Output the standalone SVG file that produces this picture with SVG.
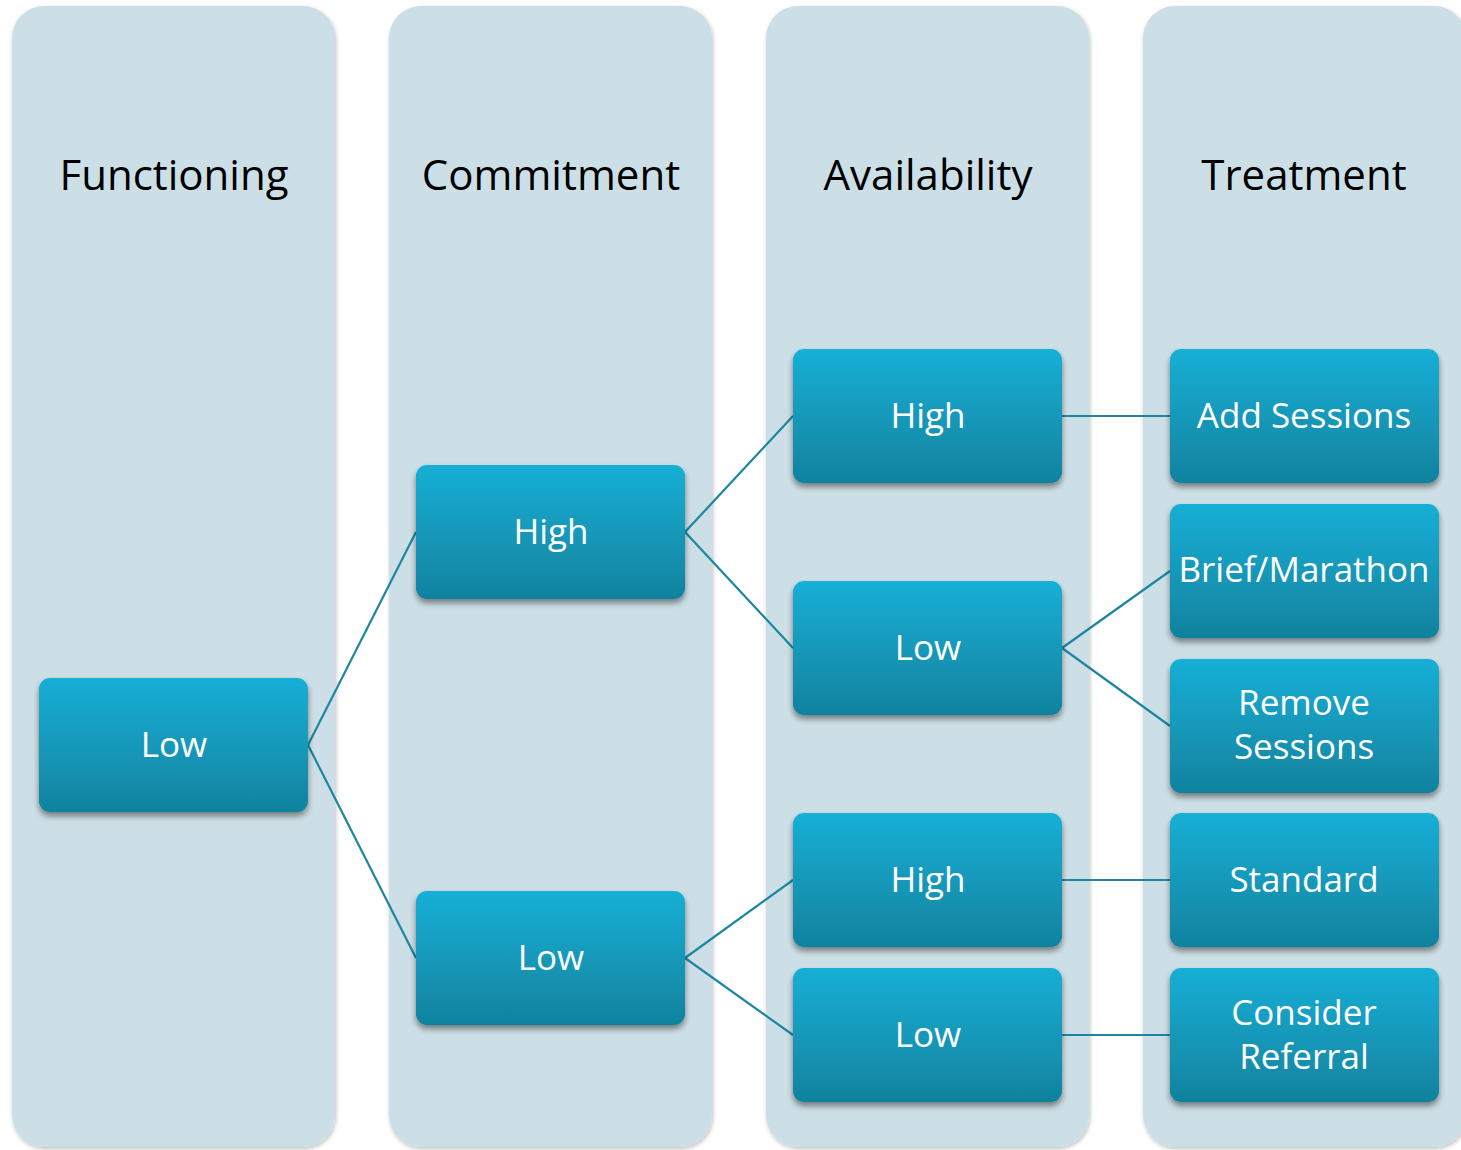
<svg xmlns="http://www.w3.org/2000/svg" width="1461" height="1150" viewBox="0 0 1461 1150">
<defs>
<linearGradient id="ng" x1="0" y1="0" x2="0" y2="1">
<stop offset="0" stop-color="#15afd6"/>
<stop offset="1" stop-color="#11829e"/>
</linearGradient>
<filter id="sh" x="-10%" y="-10%" width="120%" height="130%">
<feGaussianBlur in="SourceAlpha" stdDeviation="3"/>
<feOffset dx="0" dy="4" result="b"/>
<feComponentTransfer><feFuncA type="linear" slope="0.45"/></feComponentTransfer>
<feMerge><feMergeNode/><feMergeNode in="SourceGraphic"/></feMerge>
</filter>
<filter id="csh" x="-5%" y="-5%" width="110%" height="110%">
<feGaussianBlur in="SourceAlpha" stdDeviation="2"/>
<feOffset dx="1" dy="2" result="b"/>
<feComponentTransfer><feFuncA type="linear" slope="0.25"/></feComponentTransfer>
<feMerge><feMergeNode/><feMergeNode in="SourceGraphic"/></feMerge>
</filter>
</defs>
<style>
.col{fill:#cddfe6;filter:url(#csh)}
.hd{font-family:"Open Sans","Noto Sans",sans-serif;font-size:42px;fill:#000;text-anchor:middle}
.nb{fill:url(#ng);filter:url(#sh)}
.nt{font-family:"Open Sans","Noto Sans",sans-serif;font-size:35px;fill:#fff;text-anchor:middle}
.cn{stroke:#1d86a0;stroke-width:2.2;fill:none}
</style>
<rect width="1461" height="1150" fill="#fff"/>
<g id="columns">
<rect class="col" x="12" y="6" width="323" height="1141" rx="32"/>
<rect class="col" x="389" y="6" width="323" height="1141" rx="32"/>
<rect class="col" x="766" y="6" width="323" height="1141" rx="32"/>
<rect class="col" x="1143" y="6" width="323" height="1141" rx="32"/>
<text class="hd" x="174" y="190">Functioning</text>
<text class="hd" x="551" y="190">Commitment</text>
<text class="hd" x="928" y="190">Availability</text>
<text class="hd" x="1304" y="190">Treatment</text>
</g>
<g id="connectors">
<line class="cn" x1="308" y1="745" x2="416" y2="532"/>
<line class="cn" x1="308" y1="745" x2="416" y2="958"/>
<line class="cn" x1="685" y1="532" x2="793" y2="416"/>
<line class="cn" x1="685" y1="532" x2="793" y2="648"/>
<line class="cn" x1="685" y1="958" x2="793" y2="880"/>
<line class="cn" x1="685" y1="958" x2="793" y2="1035"/>
<line class="cn" x1="1062" y1="416" x2="1170" y2="416"/>
<line class="cn" x1="1062" y1="648" x2="1170" y2="571"/>
<line class="cn" x1="1062" y1="648" x2="1170" y2="726"/>
<line class="cn" x1="1062" y1="880" x2="1170" y2="880"/>
<line class="cn" x1="1062" y1="1035" x2="1170" y2="1035"/>
</g>
<g id="n-func-low"><rect class="nb" x="39" y="678" width="269" height="134" rx="11"/><text class="nt" x="174" y="757">Low</text></g>
<g id="n-com-high"><rect class="nb" x="416" y="465" width="269" height="134" rx="11"/><text class="nt" x="551" y="544">High</text></g>
<g id="n-com-low"><rect class="nb" x="416" y="891" width="269" height="134" rx="11"/><text class="nt" x="551" y="970">Low</text></g>
<g id="n-av-high1"><rect class="nb" x="793" y="349" width="269" height="134" rx="11"/><text class="nt" x="928" y="428">High</text></g>
<g id="n-av-low1"><rect class="nb" x="793" y="581" width="269" height="134" rx="11"/><text class="nt" x="928" y="660">Low</text></g>
<g id="n-av-high2"><rect class="nb" x="793" y="813" width="269" height="134" rx="11"/><text class="nt" x="928" y="892">High</text></g>
<g id="n-av-low2"><rect class="nb" x="793" y="968" width="269" height="134" rx="11"/><text class="nt" x="928" y="1047">Low</text></g>
<g id="n-add"><rect class="nb" x="1170" y="349" width="269" height="134" rx="11"/><text class="nt" x="1304" y="428">Add Sessions</text></g>
<g id="n-brief"><rect class="nb" x="1170" y="504" width="269" height="134" rx="11"/><text class="nt" x="1304" y="582">Brief/Marathon</text></g>
<g id="n-remove"><rect class="nb" x="1170" y="659" width="269" height="134" rx="11"/><text class="nt" x="1304" y="715">Remove</text><text class="nt" x="1304" y="759">Sessions</text></g>
<g id="n-standard"><rect class="nb" x="1170" y="813" width="269" height="134" rx="11"/><text class="nt" x="1304" y="892">Standard</text></g>
<g id="n-refer"><rect class="nb" x="1170" y="968" width="269" height="134" rx="11"/><text class="nt" x="1304" y="1025">Consider</text><text class="nt" x="1304" y="1069">Referral</text></g>
</svg>
